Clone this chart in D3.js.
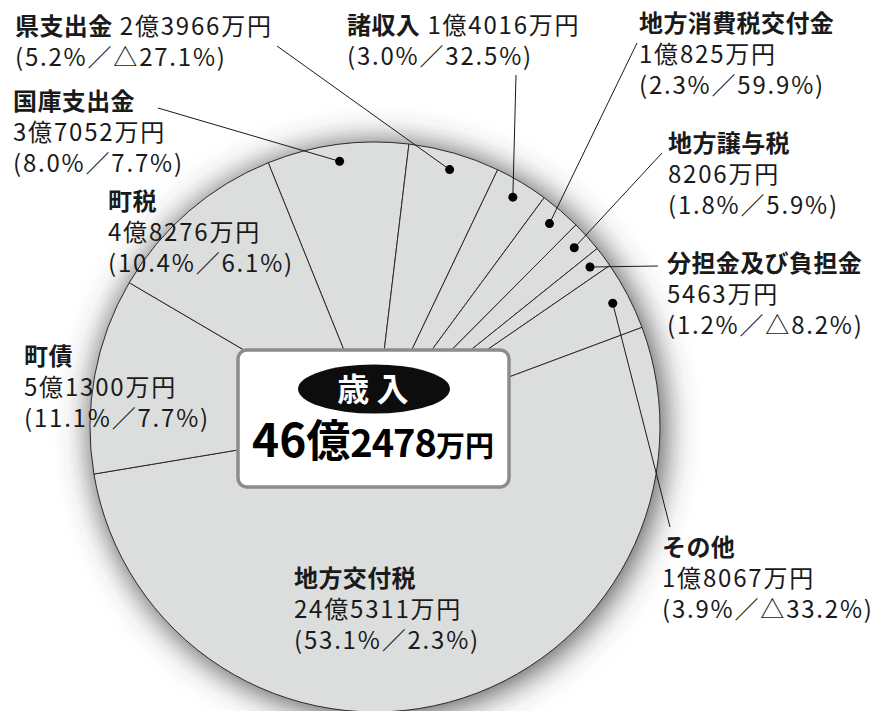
<!DOCTYPE html>
<html>
<head>
<meta charset="utf-8">
<script src="https://cdn.jsdelivr.net/npm/d3@7"></script>
<style>
  body { margin: 0; background: #fff; }
  text { font-family: "Noto Sans CJK JP", "Noto Sans", sans-serif; fill: #1a1a1a; }
</style>
</head>
<body>
<svg id="chart"></svg>
<script>
// 歳入の内訳 (万円), clockwise from 国庫支出金
const items = ["国庫支出金", "県支出金", "諸収入", "地方消費税交付金", "地方譲与税",
               "分担金及び負担金", "その他", "地方交付税", "町債", "町税"];
const amounts = [37052, 23966, 14016, 10825, 8206, 5463, 18067, 245311, 51300, 48276];
const amountLabels = ["3億7052万円", "2億3966万円", "1億4016万円", "1億825万円", "8206万円",
                      "5463万円", "1億8067万円", "24億5311万円", "5億1300万円", "4億8276万円"];
const shares = ["8.0%", "5.2%", "3.0%", "2.3%", "1.8%", "1.2%", "3.9%", "53.1%", "11.1%", "10.4%"];
const changes = ["7.7%", "△27.1%", "32.5%", "59.9%", "5.9%", "△8.2%", "△33.2%", "2.3%", "7.7%", "6.1%"];
const totalTitle = "歳 入";
const totalParts = ["46", "億", "2478", "万円"];

// label placement (first baseline); lead = marker + leader line to [x, y]
const layout = {
    "国庫支出金":       { x: 13,  y: 110, inline: false, lead: [158, 108] },
    "県支出金":         { x: 15,  y: 35,  inline: true,  lead: [277, 46] },
    "諸収入":           { x: 347, y: 34,  inline: true,  lead: [516, 75] },
    "地方消費税交付金": { x: 639, y: 32,  inline: false, lead: [637, 43] },
    "地方譲与税":       { x: 668, y: 152, inline: false, lead: [662, 153] },
    "分担金及び負担金": { x: 667, y: 272, inline: false, lead: [658, 266] },
    "その他":           { x: 662, y: 556, inline: false, lead: [670, 527] },
    "地方交付税":       { x: 294, y: 587, inline: false },
    "町債":             { x: 24,  y: 365, inline: false },
    "町税":             { x: 108, y: 210, inline: false }
};

const width = 875, height = 711;
const cx = 375, cy = 427, radius = 285;
const lineStep = 31;
const startAngle = -22 * Math.PI / 180;

const data = items.map((name, i) => ({
    name: name,
    value: amounts[i],
    amount: amountLabels[i],
    share: shares[i],
    change: changes[i]
}));

const svg = d3.select("#chart")
    .attr("width", width)
    .attr("height", height);

const defs = svg.append("defs");
defs.append("filter")
    .attr("id", "glow")
    .attr("x", "-30%").attr("y", "-30%")
    .attr("width", "160%").attr("height", "160%")
    .append("feGaussianBlur")
    .attr("stdDeviation", 17);

// soft shadow under the pie
svg.append("circle")
    .attr("cx", cx + 3)
    .attr("cy", cy + 3)
    .attr("r", radius)
    .attr("fill", "#404040")
    .attr("filter", "url(#glow)");

const pie = d3.pie()
    .sort(null)
    .value(d => d.value)
    .startAngle(startAngle)
    .endAngle(startAngle + 2 * Math.PI);

const arc = d3.arc().innerRadius(0).outerRadius(radius);
const dotArc = d3.arc().innerRadius(268).outerRadius(268);

const arcs = pie(data);

const g = svg.append("g")
    .attr("transform", `translate(${cx}, ${cy})`);

g.selectAll("path")
    .data(arcs)
    .join("path")
    .attr("d", arc)
    .attr("fill", "#dcdddd")
    .attr("stroke", "#2b2b2b")
    .attr("stroke-width", 1);

// leader lines and dots
const withLead = arcs.filter(d => layout[d.data.name].lead);

svg.selectAll("line.lead")
    .data(withLead)
    .join("line")
    .attr("class", "lead")
    .attr("x1", d => cx + dotArc.centroid(d)[0])
    .attr("y1", d => cy + dotArc.centroid(d)[1])
    .attr("x2", d => layout[d.data.name].lead[0])
    .attr("y2", d => layout[d.data.name].lead[1])
    .attr("stroke", "#1a1a1a")
    .attr("stroke-width", 1);

svg.selectAll("circle.dot")
    .data(withLead)
    .join("circle")
    .attr("class", "dot")
    .attr("cx", d => cx + dotArc.centroid(d)[0])
    .attr("cy", d => cy + dotArc.centroid(d)[1])
    .attr("r", 4.5)
    .attr("fill", "#000");

// labels
const regular = s => s.style("font-size", "24px").style("letter-spacing", "1.8px");

svg.selectAll("g.label")
    .data(data)
    .join("g")
    .attr("class", "label")
    .each(function(d) {
        const pos = layout[d.name];
        const sel = d3.select(this);
        const first = sel.append("text")
            .attr("x", pos.x)
            .attr("y", pos.y)
            .style("font-size", "24px");
        first.append("tspan")
            .style("font-weight", 700)
            .style("letter-spacing", "0.4px")
            .text(d.name);
        let y = pos.y;
        if (pos.inline) {
            first.append("tspan")
                .call(regular)
                .text(" " + d.amount);
        } else {
            y += lineStep;
            sel.append("text")
                .attr("x", pos.x)
                .attr("y", y)
                .call(regular)
                .text(d.amount);
        }
        y += lineStep;
        sel.append("text")
            .attr("x", pos.x)
            .attr("y", y)
            .call(regular)
            .text(`(${d.share}／${d.change})`);
    });

// centre box with total
const box = svg.append("g");
box.append("rect")
    .attr("x", 238)
    .attr("y", 350)
    .attr("width", 271)
    .attr("height", 137)
    .attr("rx", 9)
    .attr("fill", "#fff")
    .attr("stroke", "#8c8c8c")
    .attr("stroke-width", 3.5);

box.append("ellipse")
    .attr("cx", 374)
    .attr("cy", 389)
    .attr("rx", 76)
    .attr("ry", 24.5)
    .attr("fill", "#0d0d0d");

box.append("text")
    .attr("x", 373)
    .attr("y", 401)
    .attr("text-anchor", "middle")
    .style("font-size", "32px")
    .style("font-weight", 700)
    .style("fill", "#fff")
    .text(totalTitle);

const total = box.append("text")
    .attr("x", 373)
    .attr("y", 457)
    .attr("text-anchor", "middle")
    .style("font-weight", 700)
    .style("fill", "#000");
const partSizes = [46, 44, 38, 29];
totalParts.forEach((t, i) => {
    total.append("tspan")
        .style("font-size", partSizes[i] + "px")
        .style("letter-spacing", i === 2 ? "-1px" : "0px")
        .text(t);
});
</script>
</body>
</html>
